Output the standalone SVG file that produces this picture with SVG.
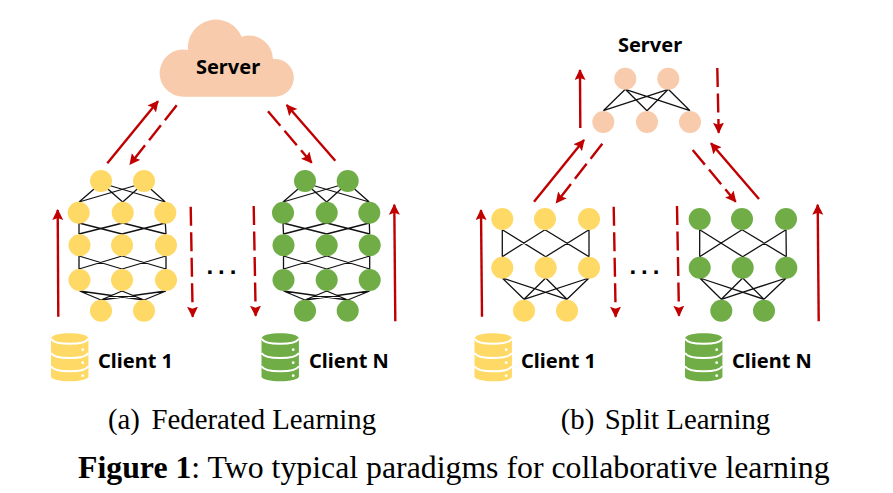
<svg xmlns="http://www.w3.org/2000/svg" width="893" height="493" viewBox="0 0 893 493">
<style>
.y{fill:#FFD966}.g{fill:#70AD47}.p{fill:#F7CBAC}
.e{stroke:#111;stroke-width:1.3;fill:none}
.s,.d{stroke:#C00000;stroke-width:2.400;fill:none;marker-end:url(#a)}
.d{stroke-dasharray:19 6.500}
.l{font-family:"Noto Sans",sans-serif;font-weight:700;font-size:20px;fill:#000}
.c{font-family:"Liberation Serif",serif;font-size:28.800px;fill:#000}
.f{font-family:"Liberation Serif",serif;font-size:31.800px;fill:#000}
.t{font-family:"Liberation Sans",sans-serif;font-weight:700;font-size:24px;letter-spacing:5px;fill:#000}
</style>
<defs>
<marker id="a" markerUnits="userSpaceOnUse" markerWidth="13" markerHeight="12" refX="10" refY="5.500" orient="auto"><path d="M0 0L11 5.500L0 11L2 5.500Z" fill="#C00000"/></marker>
<g id="db"><path d="M0 5.400C0 -1.800 37.400 -1.800 37.400 5.400V43C37.400 49.700 0 49.700 0 43Z"/><path d="M0 5.400C4 12.100 33.400 12.100 37.400 5.400M0 19.700C4 26.400 33.400 26.400 37.400 19.700M0 33C4 39.700 33.400 39.700 37.400 33" fill="none" stroke="#fff" stroke-width="2"/><circle cx="31.700" cy="16.400" r="1.400" fill="#fff"/><circle cx="31.700" cy="29.400" r="1.400" fill="#fff"/><circle cx="31.700" cy="42.400" r="1.400" fill="#fff"/></g>
</defs>
<g id="connectors">
<path class="e" d="M101 183L79 202M101 183L122.700 202M101 183L165.300 202M144 183L79 202M144 183L122.700 202M144 183L165.300 202M79 223L79 234M79 223L122 234M122.700 223L79 234M122.700 223L166 234M165.300 223L122 234M165.300 223L166 234M79 256L79 269M79 256L122 269M122 256L79 269M122 256L166 269M166 256L122 269M166 256L166 269M79.500 291L101 300M79.500 291L144 300M122 291L101 300M122 291L144 300M166 291L101 300M166 291L144 300"/>
<path class="e" d="M305 183L283 202M305 183L326.700 202M305 183L369.300 202M347.700 183L283 202M347.700 183L326.700 202M347.700 183L369.300 202M283 223L283.500 234M283 223L326.700 234M326.700 223L283.500 234M326.700 223L369.700 234M369.300 223L326.700 234M369.300 223L369.700 234M283.500 256L283.500 269M283.500 256L326.700 269M326.700 256L283.500 269M326.700 256L369.700 269M369.700 256L326.700 269M369.700 256L369.700 269M283.500 291L305 300M283.500 291L347.700 300M326.700 291L305 300M326.700 291L347.700 300M369.700 291L305 300M369.700 291L347.700 300"/>
<path class="e" d="M625.300 89.300L603.300 110.700M625.300 89.300L647 110.700M625.300 89.300L690 110.700M668.300 89.300L603.300 110.700M668.300 89.300L647 110.700M668.300 89.300L690 110.700"/>
<path class="e" d="M502.300 229.700L502.300 256.700M502.300 229.700L545.700 256.700M545 229.700L502.300 256.700M545 229.700L589 256.700M589 229.700L545.700 256.700M589 229.700L589 256.700M502.300 278L524 299.300M502.300 278L567 299.300M545.700 278L524 299.300M545.700 278L567 299.300M589 278L524 299.300M589 278L567 299.300"/>
<path class="e" d="M699.700 229.700L699.700 256.700M699.700 229.700L742.700 256.700M742 229.700L699.700 256.700M742 229.700L786.300 256.700M786 229.700L742.700 256.700M786 229.700L786.300 256.700M699.700 278L721.300 299.300M699.700 278L764 299.300M742.700 278L721.300 299.300M742.700 278L764 299.300M786.300 278L721.300 299.300M786.300 278L764 299.300"/>
<path class="s" d="M107.300 163.300L158 101.300"/><path class="d" d="M176.700 105.300L130 164.300"/><path class="d" d="M268 111.300L311.700 162.700"/><path class="s" d="M335.300 160.700L286.700 105"/>
<path class="s" d="M58.300 316.700L57.700 210"/><path class="d" d="M190.700 206.700L192.700 316.700"/><path class="d" d="M253.700 206L255.700 315.700"/><path class="s" d="M395.300 321.300L394.300 204.700"/>
<path class="s" d="M580.300 128L580 70"/><path class="d" d="M717.300 68L718.700 132.700"/><path class="s" d="M534 201.700L584 140"/><path class="d" d="M602.300 143.700L556.300 202.700"/><path class="d" d="M692.700 150L735.700 201.700"/><path class="s" d="M759 199L711 143.300"/>
<path class="s" d="M482 316.700L481 210"/><path class="d" d="M613.700 206.700L615.700 316.700"/><path class="d" d="M677 206L679 315.700"/><path class="s" d="M818.700 321.300L817.700 204.700"/>
</g>
<g id="cloud-server"><path class="p" d="M184 96.700H274.500A18.900 18.900 0 1 0 273 59A24 24 0 0 0 241.700 36.700A28 28 0 0 0 188 50A23.600 23.600 0 1 0 184 96.700Z"/><text class="l" x="228" y="74.300" text-anchor="middle">Server</text></g>
<g id="fl-client-1" class="y">
<circle cx="101" cy="181" r="11"/><circle cx="144" cy="181" r="11"/>
<circle cx="78.700" cy="212.700" r="11"/><circle cx="122.700" cy="212.700" r="11"/><circle cx="165.300" cy="212.700" r="11"/>
<circle cx="79.500" cy="245.300" r="11"/><circle cx="122" cy="245.300" r="11"/><circle cx="166" cy="245.300" r="11"/>
<circle cx="79.500" cy="280" r="11"/><circle cx="122" cy="280" r="11"/><circle cx="166" cy="280" r="11"/>
<circle cx="101" cy="310.700" r="11"/><circle cx="144" cy="310.700" r="11"/>
<use href="#db" x="51" y="333.300"/><text class="l" x="98" y="368">Client 1</text></g>
<g id="fl-client-n" class="g">
<circle cx="305" cy="181" r="11"/><circle cx="347.700" cy="181" r="11"/>
<circle cx="283" cy="212.700" r="11"/><circle cx="326.700" cy="212.700" r="11"/><circle cx="369.300" cy="212.700" r="11"/>
<circle cx="283.500" cy="245.300" r="11"/><circle cx="326.700" cy="245.300" r="11"/><circle cx="369.700" cy="245.300" r="11"/>
<circle cx="283.500" cy="280" r="11"/><circle cx="326.700" cy="280" r="11"/><circle cx="369.700" cy="280" r="11"/>
<circle cx="305" cy="310.700" r="11"/><circle cx="347.700" cy="310.700" r="11"/>
<use href="#db" x="261.500" y="333.300"/><text class="l" x="309" y="368">Client N</text></g>
<g id="sl-server" class="p">
<circle cx="625.300" cy="78.700" r="11"/><circle cx="668.300" cy="78.700" r="11"/>
<circle cx="603.300" cy="122" r="11"/><circle cx="647" cy="122" r="11"/><circle cx="690" cy="122" r="11"/>
<text class="l" x="650" y="52" text-anchor="middle">Server</text></g>
<g id="sl-client-1" class="y">
<circle cx="502.300" cy="219" r="11"/><circle cx="545" cy="219" r="11"/><circle cx="589" cy="219" r="11"/>
<circle cx="502.300" cy="267.700" r="11"/><circle cx="545.700" cy="267.700" r="11"/><circle cx="589" cy="267.700" r="11"/>
<circle cx="524" cy="310.700" r="11"/><circle cx="567" cy="310.700" r="11"/>
<use href="#db" x="474.500" y="333.300"/><text class="l" x="521" y="368">Client 1</text></g>
<g id="sl-client-n" class="g">
<circle cx="699.700" cy="219" r="11"/><circle cx="742" cy="219" r="11"/><circle cx="786" cy="219" r="11"/>
<circle cx="699.700" cy="267.700" r="11"/><circle cx="742.700" cy="267.700" r="11"/><circle cx="786.300" cy="267.700" r="11"/>
<circle cx="721.300" cy="310.700" r="11"/><circle cx="764" cy="310.700" r="11"/>
<use href="#db" x="685" y="333.300"/><text class="l" x="732" y="368">Client N</text></g>
<text class="t" x="206.400" y="274">...</text>
<text class="t" x="629.400" y="274">...</text>
<text class="c" y="429"><tspan x="108">(a)</tspan><tspan x="151.500">Federated Learning</tspan></text>
<text class="c" y="429"><tspan x="560.700">(b)</tspan><tspan x="604.700">Split Learning</tspan></text>
<text class="f" x="78" y="477.500"><tspan font-weight="700">Figure 1</tspan>: Two typical paradigms for collaborative learning</text>
</svg>
